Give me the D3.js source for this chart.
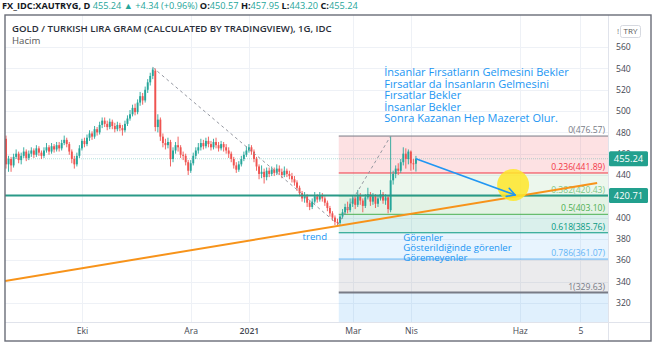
<!DOCTYPE html>
<html><head><meta charset="utf-8">
<script src="https://cdn.jsdelivr.net/npm/d3@7"></script>
<style>
html,body{margin:0;padding:0;background:#fff;}
svg{display:block;font-family:"Open Sans","Noto Sans",sans-serif;}
</style></head><body>
<svg id="c" width="654" height="345"></svg>
<script>
// ---------------- DATA ----------------
const startDate = "2020-08-20"; // first daily bar (weekdays only)
const opens = [
474,450,455,449,457,460,454,458,462,456,
460,463,459,465,461,458,463,466,462,467,
464,468,465,470,473,469,462,455,450,458,
465,472,469,475,479,476,483,480,487,491,
488,485,490,486,483,487,484,482,488,493,
497,503,499,508,514,510,520,527,533,538,
485,492,476,470,468,471,455,463,468,466,
459,458,452,444,451,458,463,466,470,467,
472,469,466,471,468,465,469,466,463,460,
455,449,445,450,455,459,463,466,462,455,
448,441,443,438,444,441,445,442,446,443,
440,444,441,439,436,433,428,423,418,420,
414,410,415,420,417,421,418,414,409,404,
400,396,395,401,405,410,407,413,418,412,
420,416,411,419,422,415,420,413,418,422,
416,419,407,435,441,446,444,452,460,455,
462,451,450.57];
const highs = [
477,458,457,460,464,462,461,466,464,463,
466,465,468,467,463,466,470,468,470,469,
471,471,473,477,475,471,464,458,461,468,
474,475,478,482,481,486,485,490,494,494,
491,493,492,489,490,489,487,491,496,501,
506,507,511,518,517,523,530,536,541,540,
497,494,479,474,475,473,466,471,476,468,
462,460,454,454,461,466,470,474,473,475,
476,472,474,475,471,472,471,469,466,462,
457,452,453,458,462,467,469,468,464,457,
450,449,446,447,447,448,447,450,449,446,
448,446,444,442,439,435,430,425,424,422,
416,418,424,422,424,423,420,416,411,406,
402,399,403,408,413,415,418,421,420,426,
423,418,422,428,424,423,422,421,426,424,
422,421,476.57,444,449,451,455,466,465,464,
463,455,457.95];
const lows = [
446,443,443,447,455,451,450,456,453,454,
457,456,457,458,455,456,461,459,460,461,
462,462,463,468,466,459,451,446,448,456,
463,466,467,472,473,474,477,478,484,485,
482,483,483,480,481,481,477,480,486,491,
495,496,497,505,506,508,517,524,530,481,
480,472,466,464,465,448,452,460,462,456,
454,449,440,442,449,455,460,463,464,465,
466,463,464,465,462,463,462,460,456,452,
446,442,443,448,453,457,461,459,452,444,
436,437,432,435,438,439,439,440,440,437,
438,438,436,433,430,425,420,415,414,410,
407,408,413,414,415,415,411,406,401,397,
393,392,393,399,403,404,405,410,408,410,
412,405,409,417,411,412,409,410,416,413,
412,404,405,431,437,440,442,449,446,450,
444,445,443.2];
const closes = [
450,455,449,457,460,454,458,462,456,460,
463,459,465,461,458,463,466,462,467,464,
468,465,470,473,469,462,455,450,458,465,
472,469,475,479,476,483,480,487,491,488,
485,490,486,483,487,484,482,488,493,497,
503,499,508,514,510,520,527,533,539,485,
492,476,470,468,471,455,463,468,466,459,
458,452,444,451,458,463,466,470,467,472,
469,466,471,468,465,469,466,463,460,455,
449,445,450,455,459,463,466,462,455,448,
441,443,438,444,441,445,442,446,443,440,
444,441,439,436,433,428,423,418,420,414,
410,415,420,417,421,418,414,409,404,400,
396,395,401,405,410,407,413,418,412,420,
416,411,419,422,415,420,413,418,422,416,
419,408,435,441,446,444,452,460,455,462,
451,450.6,455.24];

const tickDates  = ["2020-10-01","2020-12-01","2021-01-01","2021-03-01","2021-04-01","2021-06-01","2021-07-05"];
const tickLabels = ["Eki","Ara","2021","Mar","Nis","Haz","5"];
const priceTicks = [320,340,360,380,400,440,460,480,500,520,540,560];

const fibLevels = ["0","0.236","0.382","0.5","0.618","0.786","1","1.618"];
const fibValues = [476.57,441.89,420.43,403.10,385.76,361.07,329.63,238.82];
const fibColors = ["#787b86","#f23645","#81c784","#4caf50","#089981","#64b5f6","#787b86","#2196f3"];
const fibStartBar = 131.5;

const lastPrice = 455.24;
const hLineValue = 420.71;
// drawings: [bar index, price]
const trendLine = [[-0.4,340.5],[233.6,432.5]];
const peakLine  = [[58,541],[130,396]];
const riseLine  = [[131,393],[152,476.57]];
const arrowLine = [[162,455.24],[201.2,421.2]];
const circleCenter = [200.4,430.6];

const quoteLines = ["İnsanlar Fırsatların Gelmesini Bekler","Fırsatlar da İnsanların Gelmesini","Fırsatlar Bekler","İnsanlar Bekler","Sonra Kazanan Hep Mazeret Olur."];
const quoteAnchor = [149.5,532.5];
const seeLines = ["Görenler","Gösterildiğinde görenler","Göremeyenler"];
const seeAnchor = [157,378.5];
const trendLabel = "trend";
const trendAnchor = [117.2,378.6];

// ---------------- LAYOUT ----------------
const W=654,H=345;
const L=5,R=608,T=15,B=322;
const svg=d3.select("#c");
const x=d3.scaleLinear().domain([-0.4,237.9]).range([L,R]);
const y=d3.scaleLinear().domain([302,590.2]).range([B,T]);
const parse=d3.utcParse("%Y-%m-%d");
const t0=parse(startDate);
const barOf=s=>d3.utcDays(t0,parse(s)).filter(d=>d.getUTCDay()%6!==0).length;
const tickIdx=tickDates.map(barOf);

svg.append("rect").attr("width",W).attr("height",H).attr("fill","#fff");
svg.append("defs").append("clipPath").attr("id","clip").append("rect")
  .attr("x",L).attr("y",T).attr("width",R-L).attr("height",B-T);
const plot=svg.append("g").attr("clip-path","url(#clip)");

// grid
plot.append("g").selectAll("line").data(priceTicks).join("line")
  .attr("x1",L).attr("x2",R).attr("y1",d=>Math.round(y(d))+0.5).attr("y2",d=>Math.round(y(d))+0.5)
  .attr("stroke","#eef1f6").attr("stroke-width",1);
plot.append("g").selectAll("line").data(tickIdx).join("line")
  .attr("y1",T).attr("y2",B).attr("x1",d=>Math.round(x(d))+0.5).attr("x2",d=>Math.round(x(d))+0.5)
  .attr("stroke","#eef1f6").attr("stroke-width",1);

// fib bands
const fx0=x(fibStartBar);
const fib=plot.append("g");
for(let i=0;i<fibValues.length-1;i++){
  fib.append("rect").attr("x",fx0).attr("width",R-fx0)
    .attr("y",y(fibValues[i])).attr("height",y(fibValues[i+1])-y(fibValues[i]))
    .attr("fill",fibColors[i+1]).attr("fill-opacity",i===6?0.14:0.15);
}
fibValues.forEach((v,i)=>{
  fib.append("line").attr("x1",fx0).attr("x2",R).attr("y1",y(v)).attr("y2",y(v))
    .attr("stroke",fibColors[i]).attr("stroke-width",i===6?2:1);
  if(i<7) fib.append("text").attr("x",R-3).attr("y",y(v)-3).attr("text-anchor","end")
    .attr("font-size","8.6px").attr("fill",fibColors[i])
    .text(fibLevels[i]+"("+v.toFixed(2)+")");
});

// last price line
plot.append("line").attr("x1",L).attr("x2",R).attr("y1",y(lastPrice)).attr("y2",y(lastPrice))
  .attr("stroke","#26a69a").attr("stroke-opacity",0.35).attr("stroke-dasharray","1,1");

// candles
const idx=d3.range(closes.length);
const up=i=>closes[i]>=opens[i];
const cg=plot.append("g");
cg.selectAll("line").data(idx).join("line")
  .attr("x1",i=>x(i)).attr("x2",i=>x(i)).attr("y1",i=>y(highs[i])).attr("y2",i=>y(lows[i]))
  .attr("stroke",i=>up(i)?"#26a69a":"#ef5350").attr("stroke-width",0.9);
cg.selectAll("rect").data(idx).join("rect")
  .attr("x",i=>x(i)-0.95).attr("width",1.9)
  .attr("y",i=>y(Math.max(opens[i],closes[i])))
  .attr("height",i=>Math.max(1,Math.abs(y(opens[i])-y(closes[i]))))
  .attr("fill",i=>up(i)?"#26a69a":"#ef5350");

// dashed drawing lines
const seg=(g,p,attrs)=>{const l=g.append("line").attr("x1",x(p[0][0])).attr("y1",y(p[0][1])).attr("x2",x(p[1][0])).attr("y2",y(p[1][1]));for(const k in attrs)l.attr(k,attrs[k]);return l;};
seg(plot,peakLine,{stroke:"#9598a1","stroke-width":1,"stroke-dasharray":"3,3"});
seg(plot,riseLine,{stroke:"#9598a1","stroke-width":1,"stroke-dasharray":"3,3"});

// horizontal teal line
plot.append("line").attr("x1",L).attr("x2",R).attr("y1",y(hLineValue)).attr("y2",y(hLineValue))
  .attr("stroke","#2a9a88").attr("stroke-width",2);

// trend line
seg(plot,trendLine,{stroke:"#f7931a","stroke-width":2});

// circle
plot.append("circle").attr("cx",x(circleCenter[0])).attr("cy",y(circleCenter[1])).attr("r",16)
  .attr("fill","#ffe629").attr("fill-opacity",0.85);

// arrow
const ax1=x(arrowLine[0][0]),ay1=y(arrowLine[0][1]),ax2=x(arrowLine[1][0]),ay2=y(arrowLine[1][1]);
seg(plot,arrowLine,{stroke:"#2196f3","stroke-width":1.6});
const ang=Math.atan2(ay2-ay1,ax2-ax1);
[-0.5,0.5].forEach(da=>{
  plot.append("line").attr("x1",ax2).attr("y1",ay2)
    .attr("x2",ax2-9*Math.cos(ang+da)).attr("y2",ay2-9*Math.sin(ang+da))
    .attr("stroke","#2196f3").attr("stroke-width",1.6).attr("stroke-linecap","round");
});

// annotation texts
const qt=plot.append("text").attr("font-size","11px").attr("fill","#2196f3");
quoteLines.forEach((s,i)=>qt.append("tspan").attr("x",x(quoteAnchor[0])).attr("y",y(quoteAnchor[1])+i*11.5).text(s));
const st=plot.append("text").attr("font-size","9.6px").attr("fill","#2196f3");
seeLines.forEach((s,i)=>st.append("tspan").attr("x",x(seeAnchor[0])).attr("y",y(seeAnchor[1])+i*10).text(s));
plot.append("text").attr("x",x(trendAnchor[0])).attr("y",y(trendAnchor[1])).attr("font-size","9.6px")
  .attr("fill","#2196f3").text(trendLabel);

// ---------------- AXES ----------------
svg.append("line").attr("x1",L).attr("x2",W-4).attr("y1",B+0.5).attr("y2",B+0.5).attr("stroke","#e0e3eb");
svg.append("line").attr("x1",R+0.5).attr("x2",R+0.5).attr("y1",T).attr("y2",H-4).attr("stroke","#e0e3eb");

const ya=svg.append("g").attr("transform",`translate(${R},0)`)
  .call(d3.axisRight(y).tickValues(priceTicks).tickSize(0).tickPadding(8).tickFormat(d3.format("d")));
ya.select(".domain").remove();
ya.selectAll("text").attr("font-family","'Open Sans',sans-serif").attr("font-size","8.6px").attr("fill","#434651");

const xa=svg.append("g").attr("transform",`translate(0,${B})`)
  .call(d3.axisBottom(x).tickValues(tickIdx).tickSize(0).tickPadding(6).tickFormat((d,i)=>tickLabels[i]));
xa.select(".domain").remove();
xa.selectAll("text").attr("font-family","'Open Sans',sans-serif").attr("font-size","8.6px").attr("fill","#434651")
  .attr("font-weight",(d,i)=>tickLabels[i]==="2021"?"600":"400");

// price labels
[[lastPrice,"#22a08e"],[hLineValue,"#22a08e"]].forEach(([v,c])=>{
  svg.append("rect").attr("x",R+1).attr("y",y(v)-7.5).attr("width",39).attr("height",15).attr("rx",1.5).attr("fill",c);
  svg.append("text").attr("x",R+20.5).attr("y",y(v)+3.3).attr("text-anchor","middle")
    .attr("font-size","9.4px").attr("fill","#fff").text(v.toFixed(2));
});

// TRY box
svg.append("text").attr("x",617).attr("y",34).attr("font-size","8px").attr("fill","#777").text("!");
svg.append("rect").attr("x",620.5).attr("y",25.5).attr("width",20).attr("height",12).attr("rx",2)
  .attr("fill","#fff").attr("stroke","#d6d9e0");
svg.append("text").attr("x",630.5).attr("y",34.3).attr("text-anchor","middle").attr("font-size","8px").attr("fill","#555").text("TRY");

// frame
svg.append("rect").attr("x",5).attr("y",15).attr("width",646).attr("height",326)
  .attr("fill","none").attr("stroke","#6a6d78").attr("stroke-width",1.4);

// ---------------- HEADER ----------------
const hd=svg.append("text").attr("x",2).attr("y",8.5).attr("font-size","9.2px").attr("xml:space","preserve");
const teal="#26a69a",dark="#131722";
[["FX_IDC:XAUTRYG, D ",dark,"700"],["455.24 ",teal,"400"],["▲ ",teal,"400"],["+4.34 (+0.96%) ",teal,"400"],
 ["O:",dark,"700"],["450.57 ",teal,"400"],["H:",dark,"700"],["457.95 ",teal,"400"],
 ["L:",dark,"700"],["443.20 ",teal,"400"],["C:",dark,"700"],["455.24",teal,"400"]]
 .forEach(([s,c,w])=>hd.append("tspan").attr("fill",c).attr("font-weight",w).text(s));

svg.append("text").attr("x",12).attr("y",32).attr("font-size","9.6px").attr("font-weight","600").attr("fill","#2a2e39")
  .text("GOLD / TURKISH LIRA GRAM (CALCULATED BY TRADINGVIEW), 1G, IDC");
svg.append("text").attr("x",12).attr("y",43.5).attr("font-size","9.6px").attr("fill","#555")
  .text("Hacim");
</script></body></html>
